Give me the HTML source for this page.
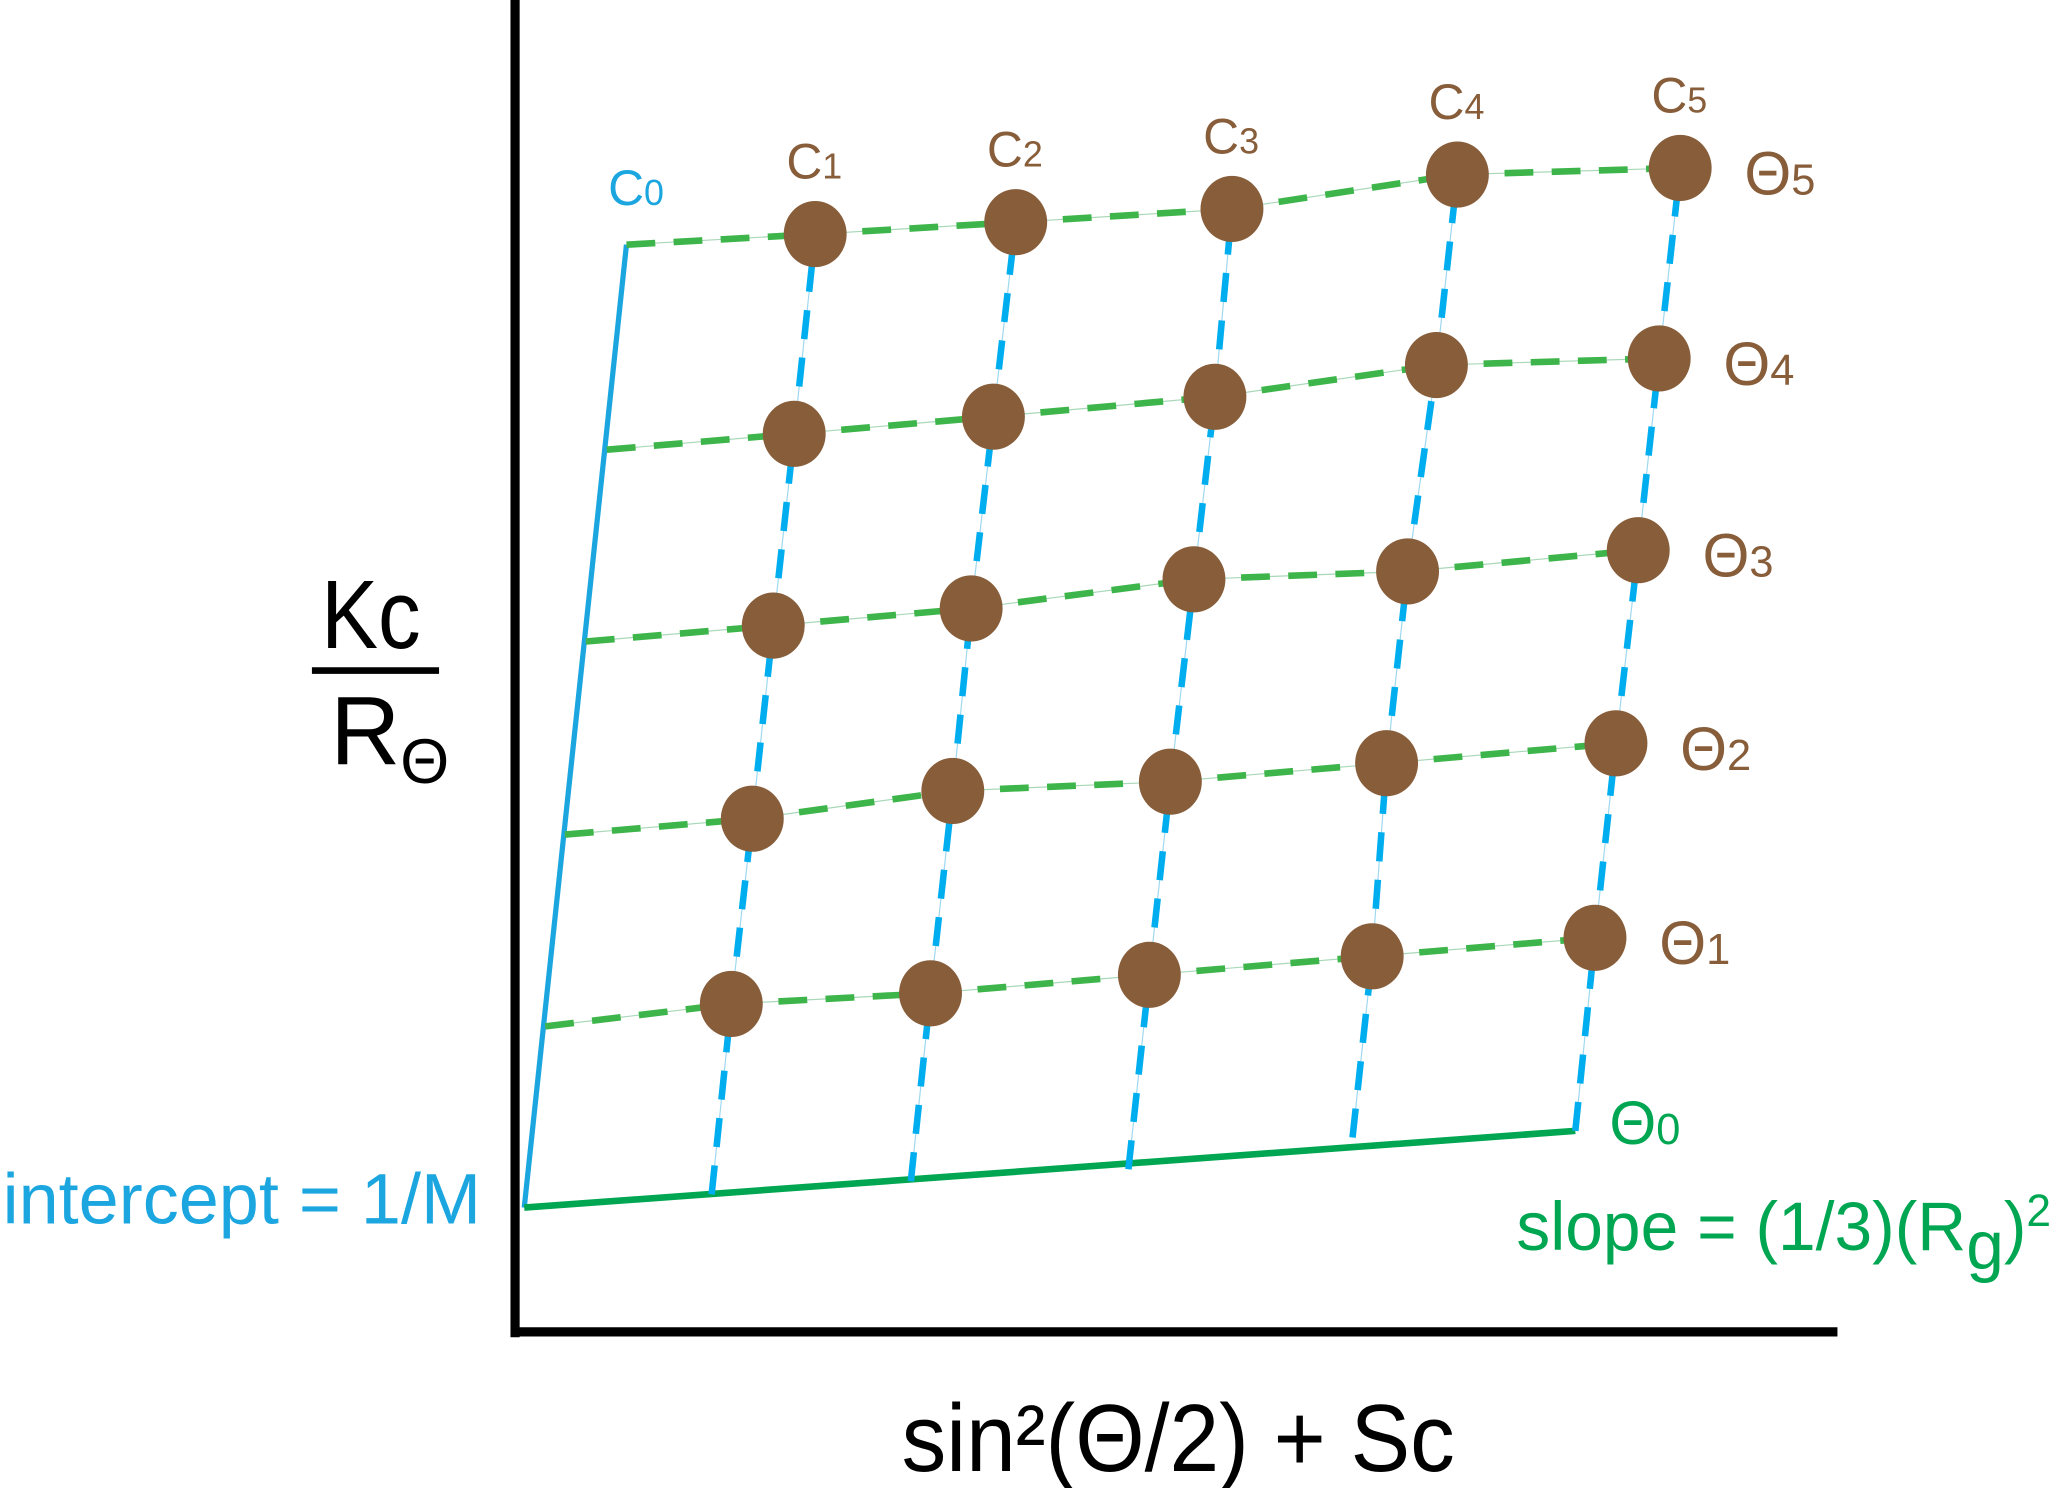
<!DOCTYPE html>
<html><head><meta charset="utf-8">
<style>
html,body{margin:0;padding:0;background:#fff;}
svg{display:block;}
text{font-family:"Liberation Sans Narrow","Liberation Sans",sans-serif;}
</style></head>
<body>
<svg id="chart" width="2055" height="1488" viewBox="0 0 1568 1125" preserveAspectRatio="none" xmlns="http://www.w3.org/2000/svg">
  <g id="grid"></g>
  <line x1="393" y1="0" x2="393" y2="1011" stroke="#000" stroke-width="7"/>
  <line x1="390" y1="1007" x2="1402" y2="1007" stroke="#000" stroke-width="7"/>
  <g id="labels"></g>
  <text x="2" y="925" font-size="54" fill="#1CA6E0" textLength="365" lengthAdjust="spacingAndGlyphs">intercept = 1/M</text>
  <text x="1157" y="945" font-size="52" fill="#00A651" textLength="408" lengthAdjust="spacingAndGlyphs">slope = (1/3)(R<tspan dy="14">g</tspan><tspan dy="-14">)</tspan><tspan dy="-18" font-size="34">2</tspan></text>
  <text x="688" y="1112" font-size="72" fill="#000" textLength="422" lengthAdjust="spacingAndGlyphs">sin²(Θ/2) + Sc</text>
  <text x="245" y="490" font-size="74" fill="#000" textLength="76" lengthAdjust="spacingAndGlyphs">Kc</text>
  <line x1="238" y1="507" x2="335" y2="507" stroke="#000" stroke-width="5"/>
  <text x="252" y="578" font-size="74" fill="#000">R<tspan font-size="48" dy="14">Θ</tspan></text>
</svg>
<script>
// Data coordinates (x: scattering variable, y: Kc/R)
const concLabels = ["C1","C2","C3","C4","C5"];
const angleLabels = ["Θ1","Θ2","Θ3","Θ4","Θ5"];
// extrapolated Θ0 (zero-angle) points per concentration, and C0 points per angle
const theta0X = [0.143, 0.295, 0.461, 0.632, 0.802];
const theta0Y = [0.010, 0.020, 0.029, 0.053, 0.058];
const c0X = [0.016, 0.031, 0.047, 0.063, 0.078];
const c0Y = [0.137, 0.282, 0.428, 0.573, 0.728];
// dot x/y per angle row (rows Θ1..Θ5), columns C1..C5
const rowX1 = [0.158, 0.310, 0.477, 0.647, 0.817];
const rowY1 = [0.154, 0.162, 0.176, 0.190, 0.204];
const rowX2 = [0.174, 0.327, 0.493, 0.658, 0.833];
const rowY2 = [0.294, 0.315, 0.322, 0.336, 0.351];
const rowX3 = [0.190, 0.341, 0.511, 0.674, 0.850];
const rowY3 = [0.440, 0.453, 0.475, 0.481, 0.497];
const rowX4 = [0.206, 0.358, 0.527, 0.696, 0.866];
const rowY4 = [0.585, 0.598, 0.613, 0.637, 0.642];
const rowX5 = [0.222, 0.375, 0.540, 0.712, 0.882];
const rowY5 = [0.736, 0.745, 0.755, 0.781, 0.786];
const originX = 0, originY = 0;

const rowsX = [rowX1,rowX2,rowX3,rowX4,rowX5];
const rowsY = [rowY1,rowY2,rowY3,rowY4,rowY5];
function X(v){return 400 + v*1000;}
function Y(v){return 913 - v*1000;}
const NS="http://www.w3.org/2000/svg";
const g=document.getElementById('grid');
const lg=document.getElementById('labels');
function mk(tag,attrs,parent){const e=document.createElementNS(NS,tag);for(const k in attrs)e.setAttribute(k,attrs[k]);(parent||g).appendChild(e);return e;}
function dashed(x1,y1,x2,y2,color,thin){
  mk('line',{x1,y1,x2,y2,stroke:thin,'stroke-width':0.9});
  const l=mk('line',{x1,y1,x2,y2,stroke:color,'stroke-width':5,'stroke-dasharray':'22 14'});
  return l;
}
const c0line=mk('line',{x1:X(originX),y1:Y(originY),x2:X(c0X[4]),y2:Y(c0Y[4]),stroke:'#1CA6E0','stroke-width':4});


const t0line=mk('line',{x1:X(originX),y1:Y(originY),x2:X(theta0X[4]),y2:Y(theta0Y[4]),stroke:'#00A651','stroke-width':5});


for(let c=0;c<5;c++){
  let px=X(theta0X[c]),py=Y(theta0Y[c]);
  for(let r=0;r<5;r++){
    const nx=X(rowsX[r][c]),ny=Y(rowsY[r][c]);
    const l=dashed(px,py,nx,ny,'#00AEEF','#9ED8F0');
    
    
    px=nx;py=ny;
  }
}
for(let r=0;r<5;r++){
  let px=X(c0X[r]),py=Y(c0Y[r]);
  for(let c=0;c<5;c++){
    const nx=X(rowsX[r][c]),ny=Y(rowsY[r][c]);
    const l=dashed(px,py,nx,ny,'#3DB54A','#A8D8B8');
    
    
    px=nx;py=ny;
  }
}
for(let r=0;r<5;r++)for(let c=0;c<5;c++){
  const d=mk('ellipse',{cx:X(rowsX[r][c]),cy:Y(rowsY[r][c]),rx:24,ry:25,fill:'#875D3A'});
  
  
}
function lab(txt,sub,x,y,size,color,name){
  const t=mk('text',{x,y,'font-size':size,fill:color},lg);
  t.textContent=txt;
  const s=document.createElementNS(NS,'tspan');s.setAttribute('font-size',size*0.72);s.textContent=sub;t.appendChild(s);
  
  
}
lab('C','0',X(c0X[4])-14,Y(c0Y[4])-30,38,'#1CA6E0','c0-label');
for(let c=0;c<5;c++) lab('C',concLabels[c].slice(1),X(rowX5[c])-22,Y(rowY5[c])-42,38,'#875D3A','conc-label-'+concLabels[c].toLowerCase());
for(let r=0;r<5;r++) lab('Θ',angleLabels[r].slice(1),X(rowsX[r][4])+49,Y(rowsY[r][4])+20,46,'#875D3A','angle-label-'+angleLabels[r].replace('Θ','theta'));
lab('Θ','0',X(theta0X[4])+26,Y(theta0Y[4])+10,46,'#00A651','angle-label-theta0');
</script>
</body></html>
